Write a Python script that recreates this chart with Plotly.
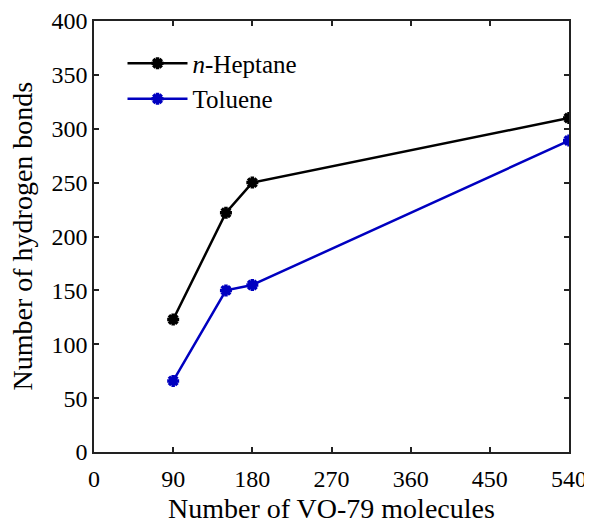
import plotly.graph_objects as go

molecules = [90, 150, 180, 540]
heptane = [123, 222, 250, 310]
toluene = [66, 150, 155, 289]
xticks = [0, 90, 180, 270, 360, 450, 540]
yticks = [0, 50, 100, 150, 200, 250, 300, 350, 400]

font = "Liberation Serif, Times New Roman, serif"
fig = go.Figure()
fig.add_trace(go.Scatter(x=molecules, y=heptane, mode="lines+markers", name="<i>n</i>-Heptane",
                         line=dict(color="black", width=2.5),
                         marker=dict(symbol="asterisk-open", size=10, color="black", line=dict(width=3.5, color="black"))))
fig.add_trace(go.Scatter(x=molecules, y=toluene, mode="lines+markers", name="Toluene",
                         line=dict(color="#0000C0", width=2.5),
                         marker=dict(symbol="asterisk-open", size=10, color="#0000C0", line=dict(width=3.5, color="#0000C0"))))

axis_common = dict(showgrid=False, zeroline=False, showline=True, linecolor="#222", linewidth=1.5,
                   mirror="ticks", ticks="inside", ticklen=5, tickcolor="#222", tickwidth=1.5,
                   automargin=False, tickfont=dict(family=font, size=24, color="black"))
fig.update_xaxes(range=[0, 540], tickvals=xticks, ticklabelstandoff=4, **axis_common)
fig.update_yaxes(range=[0, 400], tickvals=yticks, **axis_common)
fig.add_annotation(text="Number of VO-79 molecules", xref="paper", yref="paper", x=0.5, y=0,
                   xanchor="center", yanchor="middle", yshift=-56, showarrow=False, borderpad=0,
                   font=dict(family=font, size=28, color="black"))
fig.add_annotation(text="Number of hydrogen bonds", xref="paper", yref="paper", x=0, y=0.5,
                   xanchor="center", yanchor="middle", xshift=-72, textangle=-90, showarrow=False,
                   font=dict(family=font, size=28, color="black"))
fig.update_layout(width=584, height=516, margin=dict(l=86, r=23, t=13, b=72),
                  paper_bgcolor="white", plot_bgcolor="white",
                  legend=dict(x=0.06, y=0.955, xanchor="left", yanchor="top", bgcolor="rgba(0,0,0,0)",
                              font=dict(family=font, size=25, color="black"), tracegroupgap=0,
                              itemwidth=60),
                  showlegend=True)
fig.write_html("out.html")
